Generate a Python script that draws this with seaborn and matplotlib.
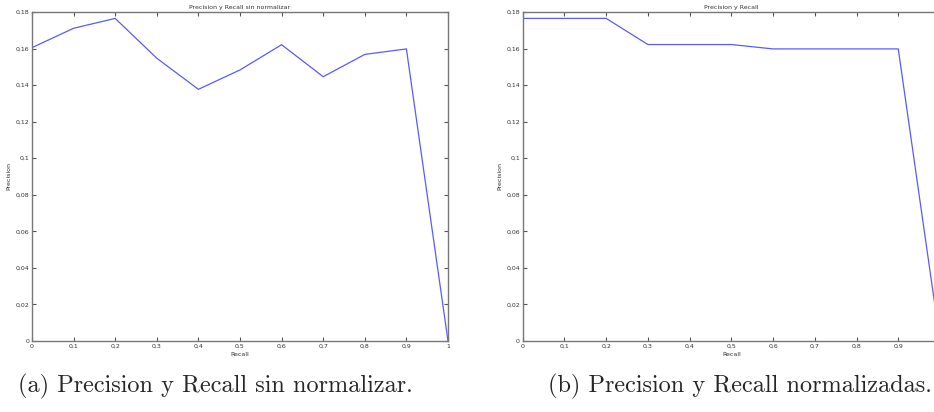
import numpy as np
import pandas as pd
import matplotlib
matplotlib.use("Agg")
import matplotlib.pyplot as plt
import seaborn as sns
from matplotlib.ticker import FuncFormatter

recall = [0.0, 0.1, 0.2, 0.3, 0.4, 0.5, 0.6, 0.7, 0.8, 0.9, 1.0]
prec_raw = [0.1605, 0.1711, 0.1765, 0.1547, 0.1377, 0.1483, 0.1621, 0.1446, 0.1568, 0.1598, 0.0]
prec_norm = [0.1765, 0.1765, 0.1765, 0.1622, 0.1622, 0.1622, 0.1598, 0.1598, 0.1598, 0.1598, 0.0]
titles = ["Precision y Recall sin normalizar", "Precision y Recall"]
captions = ["(a) Precision y Recall sin normalizar.", "(b) Precision y Recall normalizadas."]
xticks = [0, 0.1, 0.2, 0.3, 0.4, 0.5, 0.6, 0.7, 0.8, 0.9, 1.0]
yticks = [0, 0.02, 0.04, 0.06, 0.08, 0.1, 0.12, 0.14, 0.16, 0.18]

sns.set_style("white")
plt.rcParams['font.family'] = ['DejaVu Sans']

fig = plt.figure(figsize=(9.34, 4.12), dpi=100)
H = 412.0
W = 934.0
positions = [
    [32 / W, 1 - 341 / H, 416 / W, 329 / H],
    [522.7 / W, 1 - 341 / H, 417.3 / W, 329 / H],
]


def fmt(v, pos):
    s = ("%.2f" % v).rstrip("0").rstrip(".")
    return s.replace(".", ",")


for i, (pos, ys) in enumerate(zip(positions, [prec_raw, prec_norm])):
    ax = fig.add_axes(pos)
    df = pd.DataFrame({"Recall": recall, "Precision": ys})
    sns.lineplot(data=df, x="Recall", y="Precision", ax=ax, color="#5a5aff",
                 linewidth=0.9, clip_on=True)
    ax.set_xlim(0, 1)
    ax.set_ylim(0, 0.18)
    ax.set_xticks(xticks)
    ax.set_yticks(yticks)
    if i == 1:
        ax.set_xticklabels([fmt(v, None) if v < 1 else "" for v in xticks])
    else:
        ax.xaxis.set_major_formatter(FuncFormatter(fmt))
    ax.yaxis.set_major_formatter(FuncFormatter(fmt))
    ax.tick_params(axis="both", which="both", direction="in", length=3, width=0.8,
                   color="#555555", labelsize=4.5, labelcolor="#333333", pad=2,
                   top=True, right=True, bottom=True, left=True)
    for sp in ax.spines.values():
        sp.set_color("#777777")
        sp.set_linewidth(1.0)
    ax.set_xlabel("Recall", fontsize=4.5, color="#333333", labelpad=2)
    ax.set_ylabel("Precision", fontsize=4.5, color="#333333", labelpad=3)
    ax.set_title(titles[i], fontsize=4.5, color="#333333", pad=2)

fig.text(215 / W, 1 - 386 / H, captions[0], ha="center", va="center",
         fontsize=17.5, family="cmr10")
fig.text(740 / W, 1 - 386 / H, captions[1], ha="center", va="center",
         fontsize=17.5, family="cmr10")

fig.savefig("out.png", dpi=100)
